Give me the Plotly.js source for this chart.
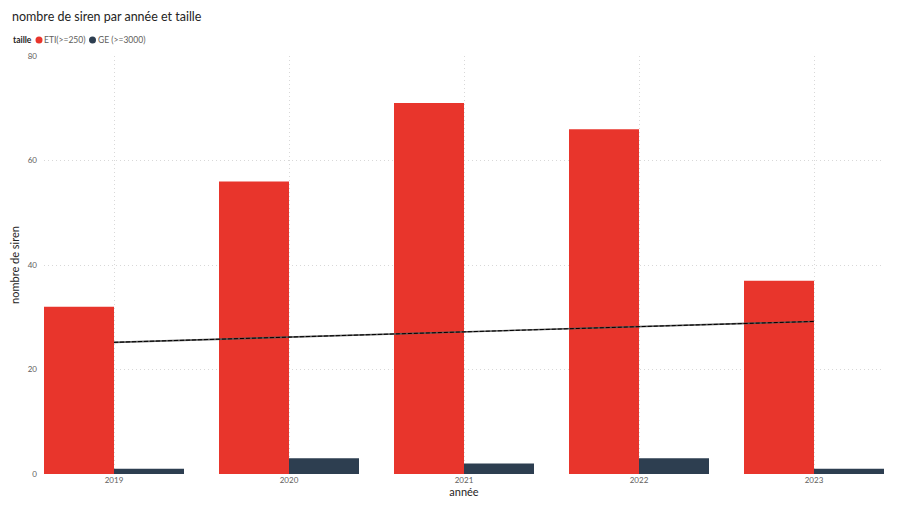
<!DOCTYPE html>
<html>
<head>
<meta charset="utf-8">
<script src="https://cdn.plot.ly/plotly-3.0.1.min.js"></script>
<style>html,body{margin:0;padding:0;background:#fff;}#chart{width:900px;height:512px;}</style>
</head>
<body>
<div id="chart"></div>
<script>
const years = ['2019', '2020', '2021', '2022', '2023'];
const etiValues = [32, 56, 71, 66, 37];
const geValues = [1, 3, 2, 3, 1];
const trendYears = ['2019', '2023'];
const trendValues = [25.2, 29.2];
const seriesNames = ['ETI(>=250)', 'GE (>=3000)'];
const legendTitle = 'taille';
const yTicks = [0, 20, 40, 60, 80];

const FONT = 'Lato, Open Sans, sans-serif';
const RED = '#E8352C';
const DARK = '#2D3E50';
const W = 900, H = 512;
const M = {l: 44, r: 16, t: 56, b: 38};
const PW = W - M.l - M.r, PH = H - M.t - M.b;
const px = v => (v - M.l) / PW;
const py = v => (H - M.b - v) / PH;

const traces = [
  {type: 'bar', x: years, y: etiValues, name: seriesNames[0], marker: {color: RED}, hoverinfo: 'skip'},
  {type: 'bar', x: years, y: geValues, name: seriesNames[1], marker: {color: DARK}, hoverinfo: 'skip'},
  {type: 'scatter', mode: 'lines', x: trendYears, y: trendValues, line: {color: '#555', width: 1.6}, hoverinfo: 'skip'},
  {type: 'scatter', mode: 'lines', x: trendYears, y: trendValues, line: {color: '#000', width: 1, dash: '4px,2px'}, hoverinfo: 'skip'}
];

const legendFont = {size: 8.5, color: '#605E5C', family: FONT};
const annotations = [
  {xref: 'paper', yref: 'paper', x: px(12), y: py(40), xanchor: 'left', yanchor: 'middle', showarrow: false, borderpad: 0,
   text: '<b>' + legendTitle + '</b>', font: {size: 8.5, color: '#252423', family: FONT}},
  {xref: 'paper', yref: 'paper', x: px(42.5), y: py(40), xanchor: 'left', yanchor: 'middle', showarrow: false, borderpad: 0,
   text: seriesNames[0], font: legendFont},
  {xref: 'paper', yref: 'paper', x: px(96.5), y: py(40), xanchor: 'left', yanchor: 'middle', showarrow: false, borderpad: 0,
   text: seriesNames[1], font: legendFont}
];
const shapes = [
  {type: 'circle', xref: 'paper', yref: 'paper', x0: px(35.5), x1: px(42.5), y0: py(36.5), y1: py(43.5), fillcolor: RED, line: {width: 0}},
  {type: 'circle', xref: 'paper', yref: 'paper', x0: px(89), x1: px(96), y0: py(36.5), y1: py(43.5), fillcolor: DARK, line: {width: 0}}
];

const layout = {
  width: W, height: H,
  paper_bgcolor: '#fff', plot_bgcolor: '#fff',
  margin: M,
  font: {family: FONT, color: '#252423'},
  title: {text: 'nombre de siren par année et taille', x: 12 / W, xanchor: 'left', xref: 'container', y: 1 - 17 / H, yanchor: 'middle', yref: 'container',
          font: {size: 12.5, family: FONT, color: '#252423'}},
  barmode: 'group', bargap: 0.2, bargroupgap: 0,
  showlegend: false,
  annotations: annotations,
  shapes: shapes,
  xaxis: {
    type: 'category', range: [-0.4, 4.4],
    showgrid: true, gridcolor: '#d8d8d8', griddash: '1px,3px', gridwidth: 1,
    zeroline: false, showline: false, ticks: '',
    tickfont: {size: 8, color: '#605E5C', family: FONT},
    title: {text: 'année', font: {size: 11, color: '#252423', family: FONT}, standoff: 4}
  },
  yaxis: {
    range: [0, 80], tickvals: yTicks, ticktext: yTicks.map(String),
    showgrid: true, gridcolor: '#d8d8d8', griddash: '1px,3px', gridwidth: 1,
    zeroline: false, showline: false, ticks: '', ticklabelstandoff: 6,
    tickfont: {size: 8, color: '#605E5C', family: FONT},
    title: {text: 'nombre de siren', font: {size: 11, color: '#252423', family: FONT}, standoff: 5}
  }
};

Plotly.newPlot('chart', traces, layout, {staticPlot: true, displayModeBar: false});
</script>
</body>
</html>
